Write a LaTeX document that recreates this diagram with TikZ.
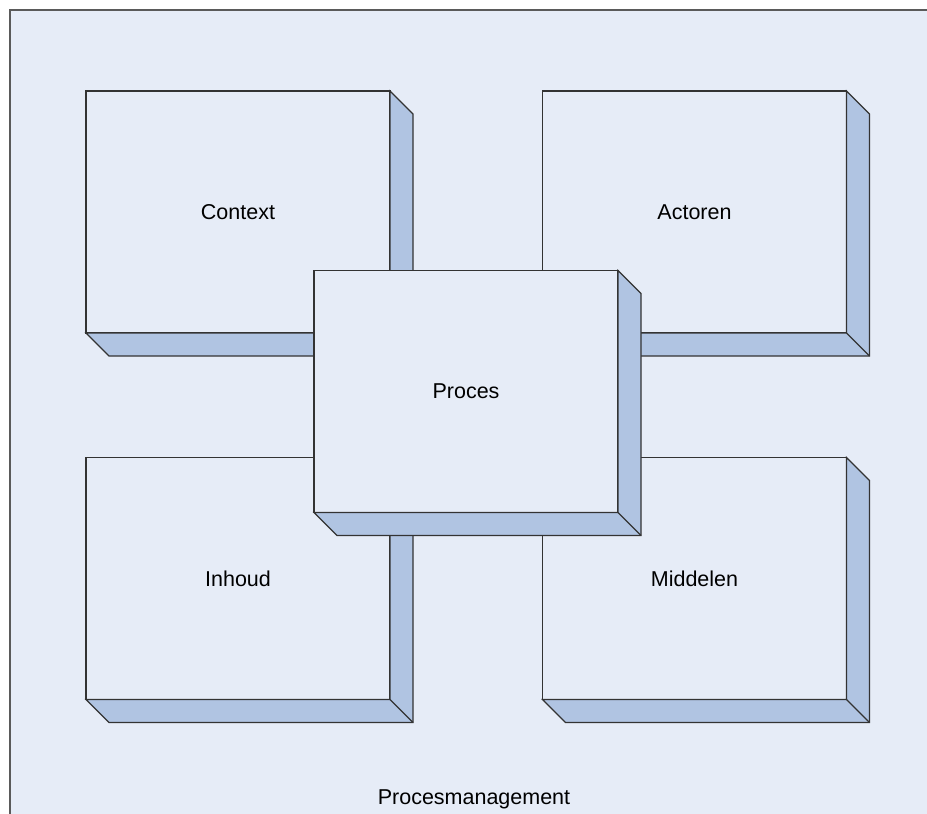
\documentclass[tikz,border=0pt]{standalone}
\usepackage{fontspec}
\setmainfont{Liberation Sans}
\usetikzlibrary{calc}
\definecolor{bgblue}{HTML}{E6ECF7}
\definecolor{sideblue}{HTML}{B0C4E2}
\definecolor{edge}{HTML}{333333}
\definecolor{frameline}{HTML}{5A5A5A}
% A raised block: front face node plus its right and bottom sides
\newcommand\blockbox[4]{%
  \node[face] (#1) at (#2,#3) {#4};
  \draw[side] (#1.north east) -- ++(23,23) -- ($(#1.south east)+(23,23)$)
    -- ($(#1.south west)+(23,23)$) -- (#1.south west) -- (#1.south east) -- cycle;
  \draw[side] (#1.south east) -- ++(23,23);
}
\begin{document}
\begin{tikzpicture}[x=1pt,y=-1pt,
  face/.style={draw=edge, line width=1.1pt, fill=bgblue, outer sep=0pt, inner sep=0pt,
    minimum width=304pt, minimum height=242pt, font=\fontsize{21.5}{24}\selectfont},
  side/.style={draw=edge, line width=1.1pt, fill=sideblue, line join=miter},
  caption/.style={font=\fontsize{21.5}{24}\selectfont, inner sep=0pt}]
\useasboundingbox (0,0) rectangle (927,814);
\fill[white] (0,0) rectangle (927,814);
\fill[bgblue] (10,10) rectangle (927,814);
\draw[frameline, line width=1.3pt] (10,814) -- (10,10) -- (927,10);

\blockbox{context}{238}{212}{Context}
\blockbox{actoren}{694.5}{212}{Actoren}
\blockbox{inhoud}{238}{578.5}{Inhoud}
\blockbox{middelen}{694.5}{578.5}{Middelen}
\blockbox{proces}{466}{391.5}{Proces}

\node[caption, anchor=base] (title) at (474,804) {Procesmanagement};
\end{tikzpicture}
\end{document}
